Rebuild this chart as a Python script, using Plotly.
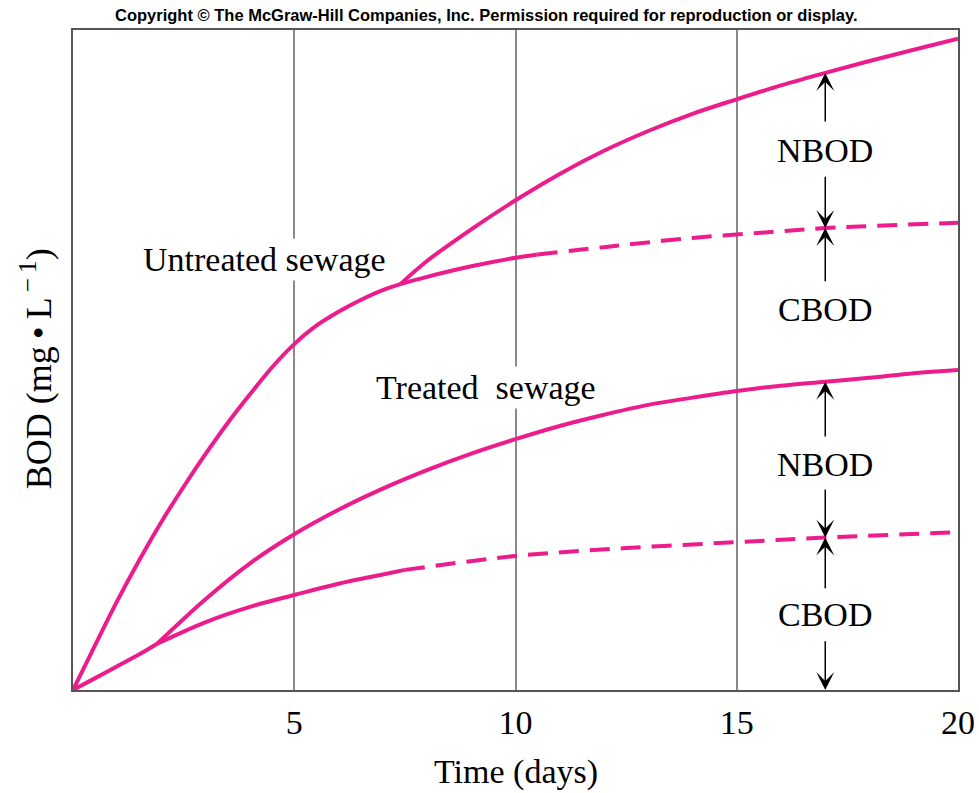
import plotly.graph_objects as go

# ---------------- data (BOD in relative units, time in days) ----------------
# Untreated sewage: CBOD and total coincide until nitrification starts (~7.4 d)
untreated_shared_t = [0, 0.5, 1, 1.5, 2, 2.5, 3, 3.5, 4, 4.5, 5, 5.5, 6, 6.5, 7, 7.4]
untreated_shared_bod = [0, 6.8, 13.5, 19.7, 25.5, 30.8, 35.8, 40.5, 44.8, 48.9, 52.4, 55.2,
                        57.3, 59.1, 60.6, 61.5]
untreated_total_t = [7.4, 8, 9, 10, 11, 12, 13, 14, 15, 16, 17, 18, 19, 20]
untreated_total_bod = [61.5, 65.0, 69.8, 74.2, 78.2, 81.7, 84.7, 87.3, 89.5, 91.6, 93.5, 95.3,
                       97.0, 98.7]
untreated_cbod_t = [7.4, 8, 9, 10, 10.5]
untreated_cbod_bod = [61.5, 62.6, 64.2, 65.5, 66.0]
untreated_cbod_ext_t = [10.5, 12, 14, 16, 17, 18, 20]
untreated_cbod_ext_bod = [66.0, 67.1, 68.5, 69.5, 70.0, 70.3, 70.8]

# Treated sewage: nitrification starts early (~1.9 d)
treated_shared_t = [0, 0.5, 1, 1.5, 1.9]
treated_shared_bod = [0, 1.8, 3.6, 5.4, 7.0]
treated_total_t = [1.9, 3, 4, 5, 6, 7, 8, 9, 10, 11, 12, 13, 14, 15, 16, 17, 18, 19, 20]
treated_total_bod = [7.0, 13.8, 19.2, 23.6, 27.3, 30.5, 33.3, 35.8, 38.0, 40.0, 41.7, 43.2,
                     44.3, 45.3, 46.1, 46.7, 47.3, 48.0, 48.5]
treated_cbod_t = [1.9, 3, 4, 5, 6, 7, 7.5]
treated_cbod_bod = [7.0, 10.3, 12.6, 14.4, 16.1, 17.5, 18.2]
treated_cbod_ext_t = [7.5, 10, 12.5, 15, 17, 20]
treated_cbod_ext_bod = [18.2, 20.3, 21.5, 22.4, 23.1, 23.9]

x_ticks = [5, 10, 15, 20]
x_tick_labels = ["5", "10", "15", "20"]

# ---------------- styling ----------------
PINK = "#EC1C8C"
SERIF = "Liberation Serif, Times New Roman, serif"
LW = 4

fig = go.Figure()

def add_line(t, v, dash="solid"):
    fig.add_trace(go.Scatter(
        x=t, y=v, mode="lines",
        line=dict(color=PINK, width=LW, dash=dash, shape="spline", smoothing=1.0),
        showlegend=False, hoverinfo="skip"))

add_line(untreated_shared_t, untreated_shared_bod)
add_line(untreated_total_t, untreated_total_bod)
add_line(untreated_cbod_t, untreated_cbod_bod)
add_line(untreated_cbod_ext_t, untreated_cbod_ext_bod, dash="20px,11px")
add_line(treated_shared_t, treated_shared_bod)
add_line(treated_total_t, treated_total_bod)
add_line(treated_cbod_t, treated_cbod_bod)
add_line(treated_cbod_ext_t, treated_cbod_ext_bod, dash="20px,11px")

# ---------------- annotations ----------------
ARROW_X = 17

def at17(ts, vs):
    return vs[ts.index(ARROW_X)]

u_top = at17(untreated_total_t, untreated_total_bod)
u_mid = at17(untreated_cbod_ext_t, untreated_cbod_ext_bod)
t_top = at17(treated_total_t, treated_total_bod)
t_mid = at17(treated_cbod_ext_t, treated_cbod_ext_bod)

annotations = []
# (tip, tail) pairs
for tipv, tailv in [(u_top, 85.9), (u_mid, 78.0), (u_mid, 61.7),
                    (t_top, 38.2), (t_mid, 30.6), (t_mid, 15.2), (0, 7.6)]:
    annotations.append(dict(
        x=ARROW_X, y=tipv, ax=ARROW_X, ay=tailv, xref="x", yref="y",
        axref="x", ayref="y", text="", showarrow=True, arrowhead=3,
        arrowsize=2.0, arrowwidth=1.5, arrowcolor="black", standoff=0))

lbl_font = dict(family=SERIF, size=34, color="black")
for txt, yv in [("NBOD", 81.8), ("CBOD", 57.6), ("NBOD", 34.1), ("CBOD", 11.4)]:
    annotations.append(dict(x=ARROW_X, y=yv, xref="x", yref="y", text=txt,
                            showarrow=False, font=lbl_font))

annotations.append(dict(x=4.32, y=65.2, xref="x", yref="y", text="Untreated sewage",
                        showarrow=False, font=lbl_font, bgcolor="white", borderpad=2))
annotations.append(dict(x=9.33, y=45.9, xref="x", yref="y", text="Treated\u00a0\u00a0sewage",
                        showarrow=False, font=lbl_font, bgcolor="white", borderpad=2))

# axis titles
annotations.append(dict(x=0.5, y=-0.124, xref="paper", yref="paper", text="Time (days)",
                        showarrow=False, font=lbl_font, xanchor="center", yanchor="middle"))
annotations.append(dict(x=-0.0418, y=0.486, xref="paper", yref="paper",
                        text="BOD (mg\u2009\u2022\u2009L<sup>\u2009\u2212\u20091</sup>)", textangle=-90,
                        showarrow=False, font=dict(family=SERIF, size=36, color="black"),
                        xanchor="center", yanchor="middle"))

# copyright line
annotations.append(dict(x=0.4667, y=1.0227, xref="paper", yref="paper",
                        text="<b>Copyright \u00a9 The McGraw-Hill Companies, Inc. Permission required for reproduction or display.</b>",
                        showarrow=False, xanchor="center", yanchor="middle",
                        font=dict(family="Liberation Sans Narrow, Arial Narrow, Liberation Sans, Arial, sans-serif",
                                  size=16.5, color="black")))

fig.update_layout(
    width=979, height=793,
    margin=dict(l=73, r=21, t=30, b=103, autoexpand=False),
    paper_bgcolor="white", plot_bgcolor="white",
    annotations=annotations,
    showlegend=False,
)
fig.update_xaxes(
    range=[0, 20], tickvals=x_ticks, ticktext=x_tick_labels,
    showgrid=True, gridcolor="#8a8a8a", gridwidth=1.5,
    showline=True, linecolor="#555555", linewidth=2, mirror=True,
    ticks="", zeroline=False, ticklabelstandoff=1, automargin=False,
    tickfont=dict(family=SERIF, size=34, color="black"),
)
fig.update_yaxes(
    range=[0, 100], showticklabels=False, showgrid=False,
    showline=True, linecolor="#555555", linewidth=2, mirror=True,
    ticks="", zeroline=False, automargin=False,
)

fig.write_html(
    "out.html",
    config={"displayModeBar": False},
    post_script="document.body.style.margin='0';document.body.style.overflow='hidden';",
)
